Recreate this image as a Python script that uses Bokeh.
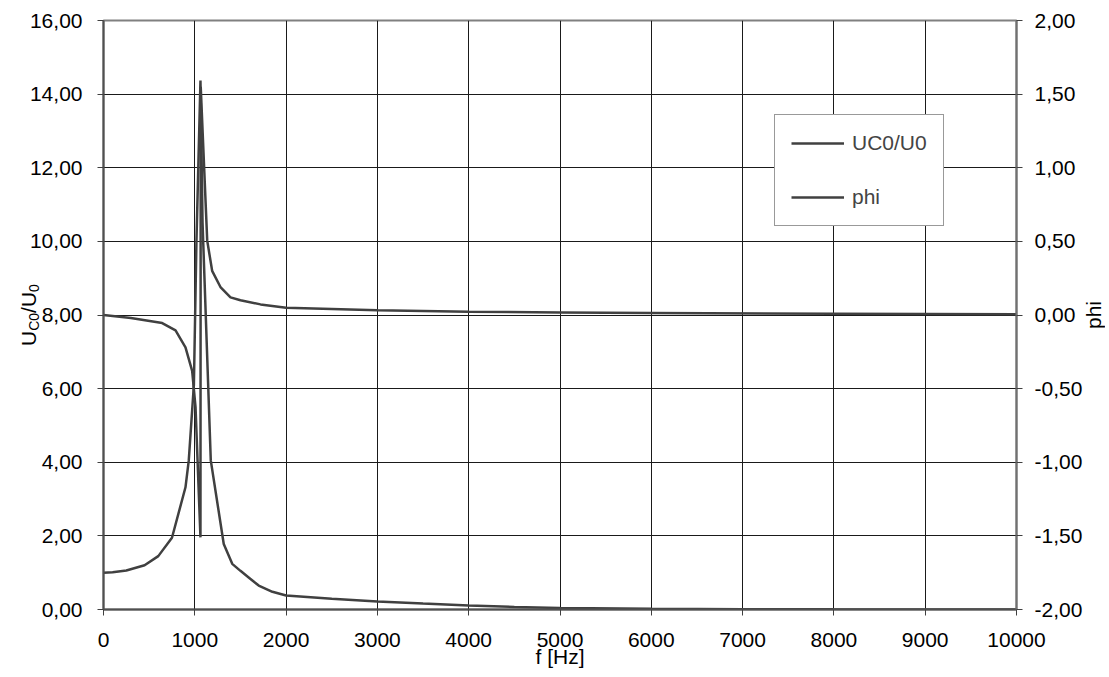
import math
from bokeh.plotting import figure
from bokeh.models import (Range1d, LinearAxis, FixedTicker, CustomJSTickFormatter,
                          Legend, LegendItem, Label)
from bokeh.embed import file_html
from bokeh.resources import INLINE

# ---------------- data ----------------
f_uc = [0, 100, 250, 450, 600, 750, 898, 934, 990, 1018, 1062, 1085, 1175,
        1317, 1410, 1500, 1600, 1700, 1850, 2000, 2500, 3000, 3500, 4000,
        4500, 5000, 6000, 7000, 8000, 9000, 10000]
uc = [1.00, 1.01, 1.06, 1.20, 1.45, 1.95, 3.32, 4.05, 6.1, 10.0, 14.37, 10.5, 4.05,
      1.78, 1.24, 1.05, 0.85, 0.65, 0.48, 0.38, 0.29, 0.22, 0.16, 0.11,
      0.07, 0.04, 0.02, 0.01, 0.005, 0.003, 0.001]

f_phi = [0, 300, 643, 789, 898, 971, 1008, 1062, 1065, 1136, 1190, 1281, 1391,
         1500, 1720, 2000, 3000, 4000, 5000, 6000, 8000, 10000]
phi = [0.0, -0.02, -0.055, -0.105, -0.22, -0.38, -0.625, -1.51, 1.55, 0.505, 0.30,
       0.19, 0.12, 0.10, 0.072, 0.05, 0.033, 0.022, 0.017, 0.013, 0.008, 0.005]

x_ticks = [0, 1000, 2000, 3000, 4000, 5000, 6000, 7000, 8000, 9000, 10000]
y_ticks = [0, 2, 4, 6, 8, 10, 12, 14, 16]
phi_ticks = [-2, -1.5, -1, -0.5, 0, 0.5, 1, 1.5, 2]

FONT = "Liberation Sans"
FS = "21px"
LINE_COLOR = "#404040"

# ---------------- geometry ----------------
# target frame on the page: left 103, top 20, 913 x 589
PAGE_LEFT, FW, FT, FH = 103, 913, 20, 589
BL = 230                      # generous left border (holds axis + title annotations)
SHIFT = BL - PAGE_LEFT        # figure is moved left by this amount via CSS
BR = 89
BB = 64
W, H = BL + FW + BR, FT + FH + BB

p = figure(width=W, height=H, x_range=Range1d(0, 10000), y_range=Range1d(0, 16),
           output_backend="svg", toolbar_location=None,
           min_border_left=BL, min_border_right=BR,
           min_border_top=FT, min_border_bottom=BB)
p.styles = {"margin-left": f"-{SHIFT}px"}
p.extra_y_ranges = {"phi": Range1d(-2, 2)}
p.background_fill_color = "white"
p.border_fill_color = "white"
p.outline_line_color = "#808080"
p.outline_line_width = 2

comma2 = CustomJSTickFormatter(code="return tick.toFixed(2).replace('.', ',');")
comma0 = CustomJSTickFormatter(code="return tick.toFixed(0);")

p.xaxis.ticker = FixedTicker(ticks=x_ticks)
p.xaxis.formatter = comma0
p.yaxis.ticker = FixedTicker(ticks=y_ticks)
p.yaxis.formatter = comma2

right = LinearAxis(y_range_name="phi", ticker=FixedTicker(ticks=phi_ticks), formatter=comma2)
p.add_layout(right, "right")

for ax in [p.xaxis[0], p.yaxis[0], right]:
    ax.axis_line_color = "#505050"
    ax.axis_line_width = 2
    ax.major_tick_line_color = "#404040"
    ax.major_tick_line_width = 1
    ax.major_tick_out = 6
    ax.major_tick_in = 0
    ax.minor_tick_line_color = None
    ax.major_label_text_font = FONT
    ax.major_label_text_font_size = FS
    ax.major_label_text_color = "black"
p.yaxis.major_label_standoff = 15
right.major_label_standoff = 12
p.xaxis.major_label_standoff = 17
right.axis_line_color = "#707070"

p.xgrid.ticker = FixedTicker(ticks=x_ticks)
p.ygrid.ticker = FixedTicker(ticks=y_ticks)
p.xgrid.grid_line_color = "#1a1a1a"
p.ygrid.grid_line_color = "#1a1a1a"
p.xgrid.grid_line_width = 1
p.ygrid.grid_line_width = 1

r1 = p.line(f_uc, uc, line_color=LINE_COLOR, line_width=2.5)
r2 = p.line(f_phi, phi, y_range_name="phi", line_color=LINE_COLOR, line_width=2.5)

legend = Legend(items=[LegendItem(label="UC0/U0", renderers=[r1]),
                       LegendItem(label="phi", renderers=[r2])],
                location=(671, 383), margin=0, padding=16, spacing=30,
                glyph_width=53, glyph_height=20, label_height=20, label_standoff=8,
                border_line_color="#333333", border_line_width=1,
                background_fill_color="white", background_fill_alpha=1.0,
                label_text_font=FONT, label_text_font_size=FS)
p.add_layout(legend)

# ---------------- axis titles (annotations in the left side panel, unclipped) ----------------


def sx(px):
    return (px - PAGE_LEFT) / FW * 10000


def sy(py):
    return (FT + FH - py) / FH * 16


# (text, font size, centre line across the text [page px], start along the text [page px])
pieces = [("U", "21px", 27.7, 345.5), ("C0", "14px", 33.6, 330.3),
          ("/U", "21px", 27.7, 312.4), ("0", "14px", 33.6, 291.4)]
for txt, fs, cx, by in pieces:
    p.add_layout(Label(x=sx(cx), y=sy(by), text=txt, angle=math.pi / 2,
                       text_align="left", text_baseline="middle",
                       text_font=FONT, text_font_size=fs, text_color="black"), "left")

p.add_layout(Label(x=sx(1092.5), y=sy(328.5), text="phi", angle=math.pi / 2,
                   text_align="left", text_baseline="middle",
                   text_font=FONT, text_font_size=FS, text_color="black"), "left")

p.add_layout(Label(x=sx(559.5), y=sy(656), text="f [Hz]",
                   text_align="center", text_baseline="middle",
                   text_font=FONT, text_font_size=FS, text_color="black"), "left")

open("out.html", "w").write(file_html(p, INLINE))
